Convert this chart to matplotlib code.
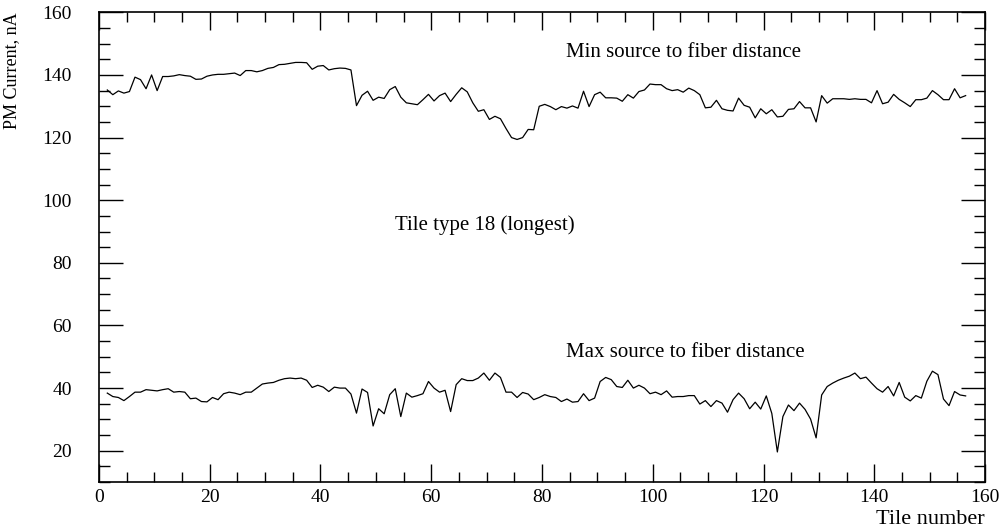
import matplotlib.pyplot as plt
import numpy as np

# PM current per tile, tile type 18
tiles = np.arange(1, 157)

min_dist = [135.2, 133.7, 134.9, 134.2, 134.7, 139.3, 138.5, 135.6, 140.0, 135.0,
 139.5, 139.5, 139.7, 140.1, 139.8, 139.6, 138.6, 138.7, 139.6, 140.0,
 140.2, 140.2, 140.4, 140.6, 139.8, 141.4, 141.4, 141.0, 141.4, 142.1,
 142.4, 143.3, 143.4, 143.7, 144.0, 144.0, 143.9, 141.8, 142.8, 143.0,
 141.6, 142.0, 142.2, 142.1, 141.6, 130.2, 133.5, 134.8, 131.9, 132.9,
 132.5, 135.3, 136.3, 132.9, 131.1, 130.8, 130.5, 132.1, 133.8, 131.7,
 133.4, 134.2, 131.5, 133.8, 135.9, 134.6, 131.1, 128.4, 128.9, 125.8,
 126.8, 126.0, 122.9, 120.0, 119.4, 120.0, 122.6, 122.5, 130.0, 130.6,
 129.9, 128.9, 129.9, 129.4, 130.1, 129.4, 134.8, 129.9, 133.7, 134.5,
 132.7, 132.7, 132.6, 131.6, 133.7, 132.6, 134.7, 135.2, 137.1, 136.9,
 136.9, 135.6, 135.0, 135.3, 134.5, 135.8, 135.0, 133.7, 129.5, 129.7,
 131.9, 129.2, 128.7, 128.5, 132.6, 130.3, 129.7, 126.3, 129.2, 127.6,
 128.9, 126.6, 126.8, 129.0, 129.2, 131.5, 129.5, 129.5, 125.0, 133.4,
 131.0, 132.4, 132.4, 132.4, 132.2, 132.4, 132.2, 132.2, 131.1, 135.0,
 130.8, 131.3, 133.8, 132.2, 131.1, 129.9, 132.1, 132.1, 132.6, 135.0,
 133.7, 132.1, 132.1, 135.6, 132.7, 133.4]

max_dist = [38.4, 37.3, 37.0, 36.0, 37.3, 38.7, 38.7, 39.5, 39.3, 39.1,
 39.5, 39.8, 38.7, 38.9, 38.7, 36.6, 36.8, 35.7, 35.6, 37.0,
 36.3, 38.2, 38.7, 38.4, 37.9, 38.7, 38.7, 40.0, 41.3, 41.6,
 41.8, 42.5, 43.0, 43.2, 43.0, 43.2, 42.5, 40.2, 40.9, 40.3,
 38.9, 40.3, 40.0, 40.0, 38.1, 32.0, 39.7, 38.6, 27.9, 33.4,
 31.8, 37.9, 39.8, 30.9, 38.4, 37.1, 37.6, 38.2, 42.1, 40.0,
 38.7, 39.3, 32.5, 41.1, 43.0, 42.4, 42.4, 43.2, 44.8, 42.5,
 44.8, 43.4, 38.7, 38.7, 37.0, 38.6, 38.1, 36.3, 37.0, 37.9,
 37.3, 37.0, 35.7, 36.5, 35.5, 35.7, 38.2, 36.0, 36.8, 42.1,
 43.4, 42.7, 40.5, 40.2, 42.5, 40.0, 40.9, 40.0, 38.2, 38.7,
 37.9, 39.1, 37.1, 37.3, 37.3, 37.6, 37.6, 34.9, 36.0, 34.1,
 36.0, 35.2, 32.3, 36.3, 38.4, 36.6, 33.4, 35.5, 33.3, 37.5,
 31.9, 19.6, 30.9, 34.6, 32.8, 35.2, 33.2, 30.1, 24.1, 37.8,
 40.5, 41.6, 42.5, 43.2, 43.8, 44.8, 43.0, 43.5, 41.6, 39.8,
 38.7, 40.5, 37.5, 41.8, 37.1, 35.9, 37.6, 36.8, 42.2, 45.4,
 44.3, 36.5, 34.4, 38.9, 37.8, 37.5]

plt.rcParams['font.family'] = 'Liberation Serif'

fig = plt.figure(figsize=(10.08, 5.29), dpi=100)
ax = fig.add_axes([0.0982, 0.0888, 0.879, 0.8879])

# bin centres
x = tiles + 0.5
ax.plot(x, min_dist, color='black', lw=0.9)
ax.plot(x, max_dist, color='black', lw=0.9)

ax.set_xlim(0, 160)
ax.set_ylim(10, 160)
ax.set_xticks(np.arange(0, 161, 20))
ax.set_xticks(np.arange(0, 161, 5), minor=True)
ax.set_yticks(np.arange(20, 161, 20))
ax.set_yticks(np.arange(10, 161, 5), minor=True)

ax.tick_params(axis='both', which='both', direction='in', top=True, right=True,
               width=1, labelsize=14)
ax.tick_params(axis='x', which='major', length=13, pad=5)
ax.tick_params(axis='x', which='minor', length=7)
ax.tick_params(axis='y', which='major', length=17, pad=19.5)
ax.tick_params(axis='y', which='minor', length=8)
for s in ax.spines.values():
    s.set_linewidth(1.2)

ax.set_ylabel('PM Current, nA', fontsize=13, loc='top', labelpad=16)
ax.set_xlabel('Tile number', fontsize=16, loc='right', labelpad=3)

ax.text(105.6, 147.2, 'Min source to fiber distance', fontsize=15, ha='center', va='center')
ax.text(69.6, 92.0, 'Tile type 18 (longest)', fontsize=15, ha='center', va='center')
ax.text(105.9, 51.5, 'Max source to fiber distance', fontsize=15, ha='center', va='center')

plt.savefig('out.png')
